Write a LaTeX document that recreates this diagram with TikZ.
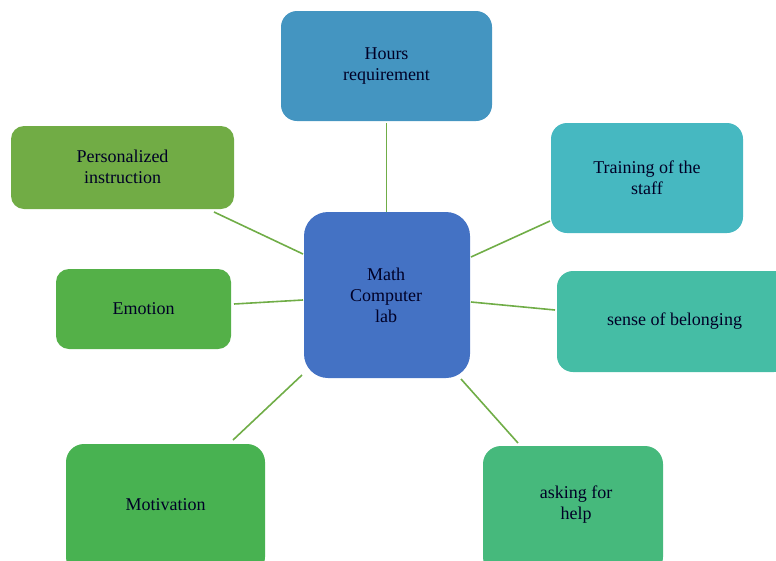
\documentclass[tikz,border=0pt]{standalone}
\usepackage{fontspec}
\setmainfont{Liberation Serif}
\begin{document}
\begin{tikzpicture}[x=1pt,y=-1pt,
 every node/.style={inner sep=0pt,outer sep=0pt},
 box/.style={rounded corners=#1,anchor=north west},
 lab/.style={font=\fontsize{18}{21}\selectfont,align=center,text=black!85!blue},
 link/.style={draw=linkgreen,line width=1.6pt}]
\definecolor{linkgreen}{HTML}{70AD47}
\definecolor{cA}{HTML}{4495C1}
\definecolor{cB}{HTML}{46B8C1}
\definecolor{cC}{HTML}{45BDA5}
\definecolor{cD}{HTML}{46B97C}
\definecolor{cE}{HTML}{48B251}
\definecolor{cF}{HTML}{54B048}
\definecolor{cG}{HTML}{71AC45}
\definecolor{cM}{HTML}{4472C4}
\useasboundingbox (0,0) rectangle (776,560);
\clip (0,0) rectangle (776,560);
\fill[cM,rounded corners=24] (304,212) rectangle (470,378);
\node[lab] (m) at (386,295) {Math\\Computer\\lab};
\coordinate (ma) at (386.5,212); \coordinate (mb) at (471,257); \coordinate (mc) at (471,302);
\coordinate (md) at (461,379); \coordinate (me) at (302,375); \coordinate (mf) at (303,300); \coordinate (mg) at (303,254);
\fill[cA,rounded corners=16] (281,11) rectangle (492,121);
\node[lab] (a) at (386.5,66) {Hours\\requirement};
\fill[cB,rounded corners=16] (551,123) rectangle (743,233);
\node[lab] (b) at (647,178) {Training of the\\staff};
\fill[cC,rounded corners=16] (557,271) rectangle (790,372);
\node[lab] (c) at (674.5,321) {sense of belonging};
\fill[cD,rounded corners=18] (483,446) rectangle (663,575);
\node[lab] (d) at (576,505) {asking for\\help};
\fill[cE,rounded corners=18] (66,444) rectangle (265,575);
\node[lab] (e) at (165.5,505) {Motivation};
\fill[cF,rounded corners=13] (56,269) rectangle (231,349);
\node[lab] (f) at (143.5,309) {Emotion};
\fill[cG,rounded corners=13] (11,126) rectangle (234,209);
\node[lab] (g) at (122.5,167) {Personalized\\instruction};
\coordinate (aa) at (386.5,123); \coordinate (bb) at (550,221); \coordinate (cc) at (555,310);
\coordinate (dd) at (518,443); \coordinate (ee) at (233,440); \coordinate (ff) at (234,304); \coordinate (gg) at (214,212);
\draw[link] (ma)--(aa); \draw[link] (mb)--(bb); \draw[link] (mc)--(cc); \draw[link] (md)--(dd);
\draw[link] (me)--(ee); \draw[link] (mf)--(ff); \draw[link] (mg)--(gg);
\end{tikzpicture}
\end{document}
